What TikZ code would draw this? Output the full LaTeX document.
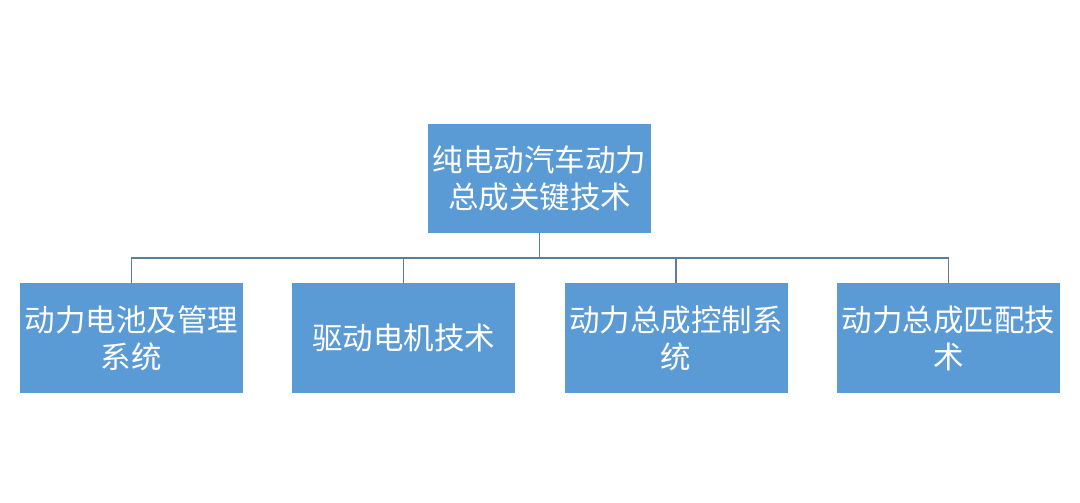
\documentclass[tikz,border=0pt]{standalone}
\usepackage{fontspec}
\newfontfamily\cjk{Noto Sans CJK SC}
\definecolor{boxblue}{HTML}{5B9BD5}
\definecolor{linkblue}{HTML}{5A7D9C}
\begin{document}
\begin{tikzpicture}[x=1pt,y=-1pt,
  box/.style={fill=boxblue,draw=none,text=white,align=center,inner sep=0pt,
    minimum width=223pt,minimum height=110pt,
    font=\cjk\fontsize{30.5}{37}\selectfont},
  link/.style={draw=linkblue,line width=1.3pt}]
\useasboundingbox (0,0) rectangle (1080,503);
\fill[white] (0,0) rectangle (1080,503);
\node[box,minimum height=109pt] (top) at (539.5,178.5) {纯电动汽车动力\\总成关键技术};
\node[box] (b1) at (131.5,338) {动力电池及管理\\系统};
\node[box] (b2) at (403.5,338) {驱动电机技术};
\node[box] (b3) at (676,338) {动力总成控制系\\统};
\node[box] (b4) at (948.5,338) {动力总成匹配技\\术};
\coordinate (mid) at (539.5,258);
\draw[link] (top.south) -- (mid);
\foreach \b in {b1,b2,b3,b4}{
  \draw[link] (mid) -| (\b.north);
}
\end{tikzpicture}
\end{document}
